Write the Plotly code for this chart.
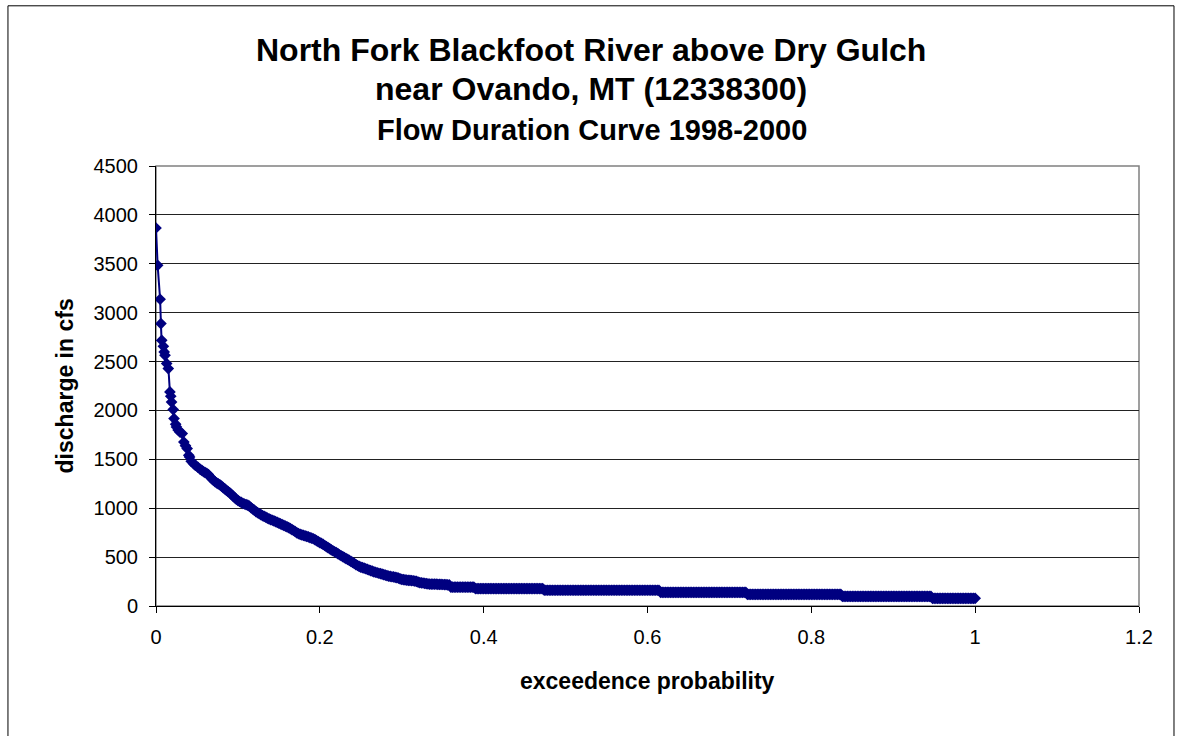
import plotly.graph_objects as go

# ---- Data -------------------------------------------------------------------
# Steep upper part of the curve (individual days with high flows)
steep_x = [
    0.000, 0.002, 0.005, 0.006, 0.007, 0.009, 0.010, 0.011, 0.013, 0.015,
    0.017, 0.018, 0.019, 0.021, 0.022, 0.024, 0.025, 0.027, 0.029, 0.032,
    0.034, 0.036, 0.038, 0.040, 0.041, 0.043, 0.046, 0.048, 0.051, 0.054,
]
steep_cfs = [
    3866, 3484, 3137, 2888, 2717, 2656, 2598, 2564, 2479, 2428,
    2189, 2145, 2086, 2009, 1917, 1860, 1831, 1800, 1780, 1763,
    1677, 1640, 1610, 1541, 1524, 1480, 1456, 1439, 1420, 1398,
]

# Recession part of the curve
mid_x = [
    0.056, 0.058, 0.060, 0.062, 0.064, 0.066, 0.068, 0.070, 0.072, 0.074,
    0.076, 0.078, 0.080, 0.082, 0.084, 0.086, 0.088, 0.090, 0.092, 0.094,
    0.096, 0.098, 0.100, 0.102, 0.104, 0.106, 0.108,
    0.110, 0.112, 0.114, 0.116, 0.118, 0.120, 0.122, 0.124, 0.126, 0.128,
    0.130, 0.132, 0.134, 0.136, 0.138, 0.140, 0.142, 0.144, 0.146, 0.148,
    0.150, 0.152, 0.154, 0.156, 0.158, 0.160, 0.162, 0.164, 0.166, 0.168,
    0.170, 0.172, 0.174, 0.176, 0.178, 0.180, 0.182, 0.184, 0.186, 0.188,
    0.190, 0.192, 0.194, 0.196, 0.198, 0.200, 0.202, 0.204, 0.206, 0.208,
    0.210, 0.212, 0.214, 0.216, 0.218, 0.220, 0.222, 0.224, 0.226, 0.228,
    0.230, 0.232, 0.234, 0.236, 0.238, 0.240, 0.242, 0.244, 0.246, 0.248,
    0.250, 0.252, 0.254, 0.256, 0.258, 0.260, 0.262, 0.264, 0.266, 0.268,
    0.270, 0.272, 0.274, 0.276, 0.278, 0.280, 0.282, 0.284, 0.286, 0.288,
    0.290, 0.292, 0.294, 0.296, 0.298, 0.300, 0.302, 0.304, 0.306, 0.308,
    0.310, 0.312, 0.314, 0.316, 0.318, 0.320, 0.322, 0.324, 0.326, 0.328,
    0.330, 0.332, 0.334, 0.336, 0.338, 0.340, 0.342, 0.344, 0.346, 0.348,
    0.350, 0.352, 0.354, 0.356, 0.358,
]
mid_cfs = [
    1387, 1375, 1365, 1356, 1345, 1322, 1302, 1286, 1272, 1260,
    1250, 1240, 1226, 1210, 1197, 1183, 1170, 1157, 1142, 1125,
    1108, 1093, 1080, 1069, 1060, 1050, 1043,
    1036, 1031, 1022, 1005, 992, 980, 966, 955, 945, 935,
    925, 916, 908, 898, 891, 884, 877, 870, 862, 855,
    848, 840, 832, 825, 817, 810, 801, 792, 782, 772,
    760, 748, 740, 733, 727, 722, 717, 712, 706, 700,
    694, 688, 678, 668, 658, 648, 640, 630, 619, 608,
    597, 586, 575, 565, 555, 545, 535, 524, 514, 505,
    495, 485, 476, 466, 456, 446, 435, 424, 414, 405,
    398, 392, 388, 381, 375, 368, 362, 356, 350, 345,
    340, 335, 331, 326, 320, 315, 310, 306, 302, 299,
    297, 293, 290, 286, 278, 273, 270, 267, 265, 263,
    262, 260, 258, 255, 252, 245, 240, 237, 235, 231,
    228, 226, 224, 224, 224, 223, 223, 222, 222, 221,
    220, 219, 218, 217, 216,
]

# Low-flow part of the curve (long runs of equal daily discharge)
low_x = [
    0.360, 0.362, 0.364, 0.366, 0.368, 0.370, 0.372, 0.374, 0.376, 0.378,
    0.380, 0.382, 0.384, 0.386, 0.388,
    0.390, 0.392, 0.394, 0.396, 0.398, 0.400, 0.402, 0.404, 0.406, 0.408,
    0.410, 0.412, 0.414, 0.416, 0.418, 0.420, 0.422, 0.424, 0.426, 0.428,
    0.430, 0.432, 0.434, 0.436, 0.438, 0.440, 0.442, 0.444, 0.446, 0.448,
    0.450, 0.452, 0.454, 0.456, 0.458, 0.460, 0.462, 0.464, 0.466, 0.468,
    0.470, 0.472,
    0.474, 0.476, 0.478, 0.480, 0.482, 0.484, 0.486, 0.488, 0.490, 0.492,
    0.494, 0.496, 0.498, 0.500, 0.502, 0.504, 0.506, 0.508, 0.510, 0.512,
    0.514, 0.516, 0.518, 0.520, 0.522, 0.524, 0.526, 0.528, 0.530, 0.532,
    0.534, 0.536, 0.538, 0.540, 0.542, 0.544, 0.546, 0.548, 0.550, 0.552,
    0.554, 0.556, 0.558, 0.560, 0.562, 0.564, 0.566, 0.568, 0.570, 0.572,
    0.574, 0.576, 0.578, 0.580, 0.582, 0.584, 0.586, 0.588, 0.590, 0.592,
    0.594, 0.596, 0.598, 0.600, 0.602, 0.604, 0.606, 0.608, 0.610, 0.612,
    0.614,
    0.616, 0.618, 0.620, 0.622, 0.624, 0.626, 0.628, 0.630, 0.632, 0.634,
    0.636, 0.638, 0.640, 0.642, 0.644, 0.646, 0.648, 0.650, 0.652, 0.654,
    0.656, 0.658, 0.660, 0.662, 0.664, 0.666, 0.668, 0.670, 0.672, 0.674,
    0.676, 0.678, 0.680, 0.682, 0.684, 0.686, 0.688, 0.690, 0.692, 0.694,
    0.696, 0.698, 0.700, 0.702, 0.704, 0.706, 0.708, 0.710, 0.712, 0.714,
    0.716, 0.718, 0.720,
    0.722, 0.724, 0.726, 0.728, 0.730, 0.732, 0.734, 0.736, 0.738, 0.740,
    0.742, 0.744, 0.746, 0.748, 0.750, 0.752, 0.754, 0.756, 0.758, 0.760,
    0.762, 0.764, 0.766, 0.768, 0.770, 0.772, 0.774, 0.776, 0.778, 0.780,
    0.782, 0.784, 0.786, 0.788, 0.790, 0.792, 0.794, 0.796, 0.798, 0.800,
    0.802, 0.804, 0.806, 0.808, 0.810, 0.812, 0.814, 0.816, 0.818, 0.820,
    0.822, 0.824, 0.826, 0.828, 0.830, 0.832, 0.834, 0.836,
    0.838, 0.840, 0.842, 0.844, 0.846, 0.848, 0.850, 0.852, 0.854, 0.856,
    0.858, 0.860, 0.862, 0.864, 0.866, 0.868, 0.870, 0.872, 0.874, 0.876,
    0.878, 0.880, 0.882, 0.884, 0.886, 0.888, 0.890, 0.892, 0.894, 0.896,
    0.898, 0.900, 0.902, 0.904, 0.906, 0.908, 0.910, 0.912, 0.914, 0.916,
    0.918, 0.920, 0.922, 0.924, 0.926, 0.928, 0.930, 0.932, 0.934, 0.936,
    0.938, 0.940, 0.942, 0.944, 0.946,
    0.948, 0.950, 0.952, 0.954, 0.956, 0.958, 0.960, 0.962, 0.964, 0.966,
    0.968, 0.970, 0.972, 0.974, 0.976, 0.978, 0.980, 0.982, 0.984, 0.986,
    0.988, 0.990, 0.992, 0.994, 0.996, 0.998, 1.000,
]
low_cfs = [
    193, 193, 193, 193, 193, 193, 193, 193, 193, 193,
    193, 193, 193, 193, 193,
    178, 178, 178, 178, 178, 178, 178, 178, 178, 178,
    178, 178, 178, 178, 178, 178, 178, 178, 178, 178,
    178, 178, 178, 178, 178, 178, 178, 178, 178, 178,
    178, 178, 178, 178, 178, 178, 178, 178, 178, 178,
    178, 178,
    161, 161, 161, 161, 161, 161, 161, 161, 161, 161,
    161, 161, 161, 161, 161, 161, 161, 161, 161, 161,
    161, 161, 161, 161, 161, 161, 161, 161, 161, 161,
    161, 161, 161, 161, 161, 161, 161, 161, 161, 161,
    161, 161, 161, 161, 161, 161, 161, 161, 161, 161,
    161, 161, 161, 161, 161, 161, 161, 161, 161, 161,
    161, 161, 161, 161, 161, 161, 161, 161, 161, 161,
    161,
    140, 140, 140, 140, 140, 140, 140, 140, 140, 140,
    140, 140, 140, 140, 140, 140, 140, 140, 140, 140,
    140, 140, 140, 140, 140, 140, 140, 140, 140, 140,
    140, 140, 140, 140, 140, 140, 140, 140, 140, 140,
    140, 140, 140, 140, 140, 140, 140, 140, 140, 140,
    140, 140, 140,
    119, 119, 119, 119, 119, 119, 119, 119, 119, 119,
    119, 119, 119, 119, 119, 119, 119, 119, 119, 119,
    119, 119, 119, 119, 119, 119, 119, 119, 119, 119,
    119, 119, 119, 119, 119, 119, 119, 119, 119, 119,
    119, 119, 119, 119, 119, 119, 119, 119, 119, 119,
    119, 119, 119, 119, 119, 119, 119, 119,
    98, 98, 98, 98, 98, 98, 98, 98, 98, 98,
    98, 98, 98, 98, 98, 98, 98, 98, 98, 98,
    98, 98, 98, 98, 98, 98, 98, 98, 98, 98,
    98, 98, 98, 98, 98, 98, 98, 98, 98, 98,
    98, 98, 98, 98, 98, 98, 98, 98, 98, 98,
    98, 98, 98, 98, 98,
    79, 79, 79, 79, 79, 79, 79, 79, 79, 79,
    79, 79, 79, 79, 79, 79, 79, 79, 79, 79,
    79, 79, 79, 79, 79, 79, 79,
]

exceedance = steep_x + mid_x + low_x
discharge_cfs = steep_cfs + mid_cfs + low_cfs
assert len(exceedance) == len(discharge_cfs)

x_ticks = [0, 0.2, 0.4, 0.6, 0.8, 1, 1.2]
x_tick_labels = ["0", "0.2", "0.4", "0.6", "0.8", "1", "1.2"]
y_ticks = [0, 500, 1000, 1500, 2000, 2500, 3000, 3500, 4000, 4500]

title_lines = [
    "North Fork Blackfoot River above Dry Gulch",
    "near Ovando, MT (12338300)",
    "Flow Duration Curve 1998-2000",
]
x_title = "exceedence probability"
y_title = "discharge in cfs"

# ---- Styling / layout -------------------------------------------------------
FONT = "Liberation Sans, Arial, Helvetica, sans-serif"
NAVY = "#000080"

W, H = 1177, 736
L, R, T, B = 155.6, 1139.0, 165.7, 605.7  # plot area in pixels
pw, ph = R - L, B - T


def py(ypx):
    return (B - ypx) / ph


def px(xpx):
    return (xpx - L) / pw


fig = go.Figure()
fig.add_trace(go.Scatter(
    x=exceedance, y=discharge_cfs, mode="lines+markers",
    line=dict(color=NAVY, width=2, shape="spline", smoothing=0.5),
    marker=dict(symbol="diamond", size=9, color=NAVY, line=dict(width=0)),
    showlegend=False, hoverinfo="x+y",
))

fig.update_layout(
    width=W, height=H,
    margin=dict(l=L, r=W - R, t=T, b=H - B, pad=0),
    paper_bgcolor="white", plot_bgcolor="white",
    font=dict(family=FONT, color="black", size=20),
    xaxis=dict(
        range=[0, 1.2], tickvals=x_ticks, ticktext=x_tick_labels,
        showgrid=False, zeroline=False,
        showline=True, linecolor="black", linewidth=1,
        ticks="outside", ticklen=6, tickcolor="black", tickwidth=1,
        ticklabelstandoff=7, tickfont=dict(size=20),
    ),
    yaxis=dict(
        range=[0, 4500], tickvals=y_ticks,
        showgrid=True, gridcolor="#222222", gridwidth=1, zeroline=False,
        showline=True, linecolor="black", linewidth=1,
        ticks="outside", ticklen=6, tickcolor="black", tickwidth=1,
        ticklabelstandoff=7, tickfont=dict(size=20),
    ),
    shapes=[
        dict(type="rect", xref="paper", yref="paper", x0=0, x1=1, y0=0, y1=1,
             line=dict(color="#808080", width=1.5), layer="below"),
        dict(type="rect", xref="paper", yref="paper",
             x0=px(7.5), x1=px(1174), y0=py(745), y1=py(5.5),
             line=dict(color="black", width=1), layer="below"),
    ],
    annotations=[
        dict(text="<b>%s</b>" % title_lines[0], x=px(590.5), xref="paper",
             xanchor="center", y=py(49.5), yref="paper", yanchor="middle",
             showarrow=False, font=dict(size=32)),
        dict(text="<b>%s</b>" % title_lines[1], x=px(590.5), xref="paper",
             xanchor="center", y=py(88.5), yref="paper", yanchor="middle",
             showarrow=False, font=dict(size=32)),
        dict(text="<b>%s</b>" % title_lines[2], x=px(592), xref="paper",
             xanchor="center", y=py(129.5), yref="paper", yanchor="middle",
             showarrow=False, font=dict(size=29)),
        dict(text="<b>%s</b>" % x_title, x=0.5, xref="paper",
             xanchor="center", y=py(681), yref="paper", yanchor="middle",
             showarrow=False, font=dict(size=23)),
        dict(text="<b>%s</b>" % y_title, x=px(65), xref="paper",
             xanchor="center", y=0.5, yref="paper", yanchor="middle",
             textangle=-90, showarrow=False, font=dict(size=23)),
    ],
)

fig.write_html("out.html")
